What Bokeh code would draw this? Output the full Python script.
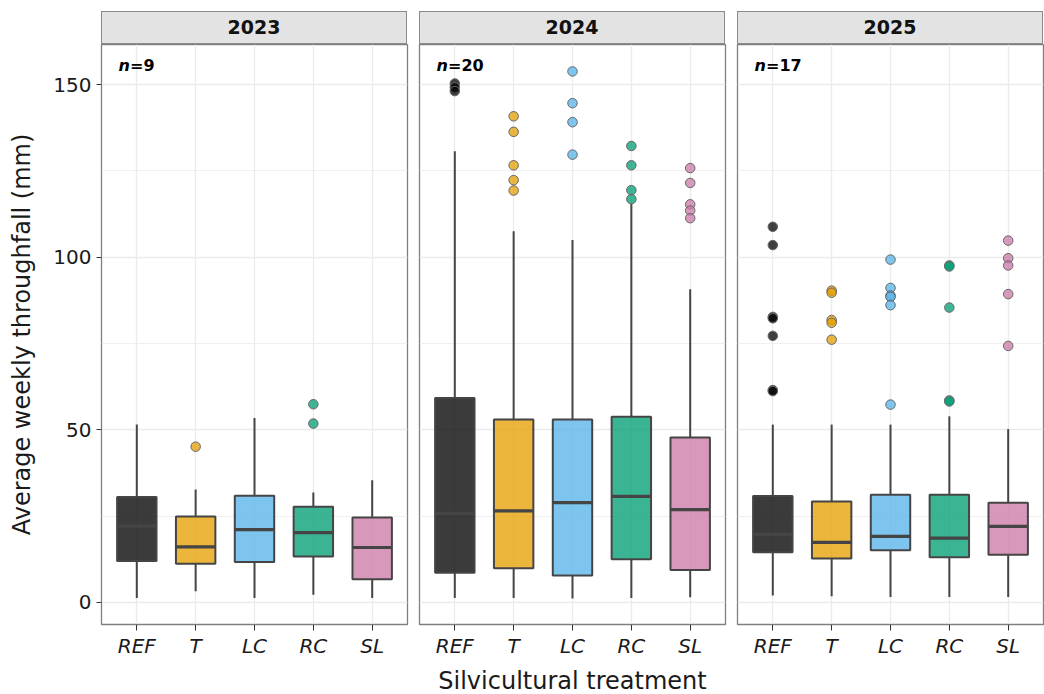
from bokeh.plotting import figure
from bokeh.models import FactorRange, Range1d, FixedTicker, Label, Div, ColumnDataSource
from bokeh.layouts import row, column
from bokeh.transform import factor_cmap
from bokeh.embed import file_html
from bokeh.resources import INLINE

# ---------------- data ----------------
treatments = ["REF", "T", "LC", "RC", "SL"]
colors = ["#000000", "#E69F00", "#56B4E9", "#009E73", "#CC79A7"]
years = ["2023", "2024", "2025"]
n_weeks = [9, 20, 17]

lo_2023 = [1.3, 3.2, 1.3, 2.2, 1.3]
q1_2023 = [12.0, 11.2, 11.7, 13.3, 6.7]
med_2023 = [22.1, 16.1, 21.1, 20.2, 15.9]
q3_2023 = [30.5, 24.9, 30.9, 27.7, 24.6]
hi_2023 = [51.5, 32.7, 53.4, 31.8, 35.4]
out_trt_2023 = ["T", "RC", "RC"]
out_val_2023 = [45.1, 57.4, 51.8]

lo_2024 = [1.3, 1.3, 1.1, 1.3, 1.5]
q1_2024 = [8.6, 9.9, 7.8, 12.5, 9.4]
med_2024 = [25.8, 26.5, 28.9, 30.7, 26.9]
q3_2024 = [59.2, 53.0, 53.0, 53.8, 47.8]
hi_2024 = [130.7, 107.5, 105.0, 115.5, 90.7]
out_trt_2024 = ["REF", "REF", "REF",
                "T", "T", "T", "T", "T",
                "LC", "LC", "LC", "LC",
                "RC", "RC", "RC", "RC",
                "SL", "SL", "SL", "SL", "SL"]
out_val_2024 = [150.3, 149.2, 148.1,
                140.8, 136.3, 126.6, 122.3, 119.3,
                153.8, 144.6, 139.1, 129.7,
                132.2, 126.6, 119.4, 116.8,
                125.8, 121.5, 115.3, 113.5, 111.3]

lo_2025 = [2.0, 1.8, 1.6, 1.6, 1.6]
q1_2025 = [14.5, 12.7, 15.1, 13.1, 13.8]
med_2025 = [19.7, 17.4, 19.1, 18.6, 22.0]
q3_2025 = [30.8, 29.2, 31.2, 31.2, 28.9]
hi_2025 = [51.5, 51.5, 51.5, 53.9, 50.2]
out_trt_2025 = ["REF", "REF", "REF", "REF", "REF", "REF", "REF",
                "T", "T", "T", "T", "T",
                "LC", "LC", "LC", "LC", "LC", "LC",
                "RC", "RC", "RC", "RC", "RC",
                "SL", "SL", "SL", "SL", "SL"]
out_val_2025 = [108.8, 103.5, 82.7, 82.3, 77.2, 61.5, 61.2,
                90.3, 89.7, 81.8, 81.0, 76.1,
                99.3, 91.1, 88.9, 88.5, 86.1, 57.3,
                97.6, 97.3, 85.4, 58.5, 58.2,
                104.8, 99.7, 97.6, 89.3, 74.3]

y_ticks = [0, 50, 100, 150]
y_minor = [25, 75, 125]

stats = {
    "2023": (lo_2023, q1_2023, med_2023, q3_2023, hi_2023, out_trt_2023, out_val_2023),
    "2024": (lo_2024, q1_2024, med_2024, q3_2024, hi_2024, out_trt_2024, out_val_2024),
    "2025": (lo_2025, q1_2025, med_2025, q3_2025, hi_2025, out_trt_2025, out_val_2025),
}

# ---------------- styling ----------------
FONT = "DejaVu Sans"
FRAME_W = 306
FRAME_H = 580
BOX_W = 0.67
LINE_C = "#454545"
GRID_C = "#ebebeb"
LEFT = 101

y_range = Range1d(-6.4, 161.6)
cmap = factor_cmap("trt", palette=colors, factors=treatments)

columns = []
for i, yr in enumerate(years):
    lo, q1, med, q3, hi, otrt, oval = stats[yr]
    first, middle, last = i == 0, i == 1, i == 2
    p = figure(
        x_range=FactorRange(factors=treatments, range_padding=0.1,
                            range_padding_units="absolute"),
        y_range=y_range,
        frame_width=FRAME_W, frame_height=FRAME_H,
        min_border_left=LEFT if first else 6,
        min_border_right=1 if last else 6,
        min_border_top=0, min_border_bottom=0,
        output_backend="svg", toolbar_location=None,
        background_fill_color="white", border_fill_color="white",
    )
    p.outline_line_color = "#7f7f7f"
    p.outline_line_width = 1.3

    src = ColumnDataSource(dict(trt=treatments, lo=lo, q1=q1, med=med, q3=q3, hi=hi))
    osrc = ColumnDataSource(dict(trt=otrt, val=oval))

    # whiskers
    p.segment(x0="trt", y0="q3", x1="trt", y1="hi", source=src,
              line_color=LINE_C, line_width=2)
    p.segment(x0="trt", y0="lo", x1="trt", y1="q1", source=src,
              line_color=LINE_C, line_width=2)
    # boxes
    p.vbar(x="trt", bottom="q1", top="q3", width=BOX_W, source=src,
           fill_color=cmap, fill_alpha=0.77, line_color=LINE_C, line_width=2)
    # medians
    p.rect(x="trt", y="med", width=BOX_W, height=3.2, height_units="screen",
           source=src, fill_color=LINE_C, line_color=None)
    # outliers
    p.scatter(x="trt", y="val", source=osrc, size=9.5, marker="circle",
              fill_color=cmap, fill_alpha=0.75,
              line_color="#666666", line_width=1)

    # n label
    p.add_layout(Label(x=0.19, y=155.5, text="n", text_font=FONT,
                       text_font_style="bold italic", text_font_size="16px",
                       text_baseline="middle", text_color="black"))
    p.add_layout(Label(x=0.19, x_offset=11.5, y=155.5, text="=" + str(n_weeks[i]),
                       text_font=FONT, text_font_style="bold",
                       text_font_size="16px", text_baseline="middle",
                       text_color="black"))

    # grids
    p.xgrid.grid_line_color = GRID_C
    p.xgrid.grid_line_width = 1.3
    p.ygrid.ticker = FixedTicker(ticks=y_ticks, minor_ticks=y_minor)
    p.ygrid.grid_line_color = GRID_C
    p.ygrid.grid_line_width = 1.3
    p.ygrid.minor_grid_line_color = GRID_C
    p.ygrid.minor_grid_line_width = 0.8

    # x axis
    xa = p.xaxis[0]
    xa.axis_line_color = None
    xa.major_tick_line_color = "#333333"
    xa.major_tick_out = 6
    xa.major_tick_in = 0
    xa.major_label_text_font = FONT
    xa.major_label_text_font_size = "20px"
    xa.major_label_text_font_style = "italic"
    xa.major_label_text_color = "#1a1a1a"
    xa.major_label_standoff = 3
    if middle:
        xa.axis_label = "Silvicultural treatment"
        xa.axis_label_text_font = FONT
        xa.axis_label_text_font_size = "24px"
        xa.axis_label_text_font_style = "normal"
        xa.axis_label_text_color = "#1a1a1a"
        xa.axis_label_standoff = 6

    # y axis
    ya = p.yaxis[0]
    ya.ticker = FixedTicker(ticks=y_ticks, minor_ticks=y_minor)
    if first:
        ya.axis_line_color = None
        ya.major_tick_line_color = "#333333"
        ya.major_tick_out = 5
        ya.major_tick_in = 0
        ya.minor_tick_line_color = None
        ya.major_label_text_font = FONT
        ya.major_label_text_font_size = "20px"
        ya.major_label_text_color = "#1a1a1a"
        ya.major_label_standoff = 5
        ya.axis_label = "Average weekly throughfall (mm)"
        ya.axis_label_text_font = FONT
        ya.axis_label_text_font_size = "24px"
        ya.axis_label_text_font_style = "normal"
        ya.axis_label_text_color = "#1a1a1a"
        ya.axis_label_standoff = 14
    else:
        ya.visible = False

    strip = Div(
        text=yr,
        width=FRAME_W, height=33,
        margin=(11, 0, 0, LEFT if first else 6),
        styles={"background-color": "#e3e3e3", "border": "1px solid #8a8a8a",
                "box-sizing": "border-box", "text-align": "center",
                "font-family": "'DejaVu Sans'", "font-weight": "bold",
                "font-size": "19px", "line-height": "31px", "color": "#111111"},
    )
    columns.append(column(strip, p, spacing=0))

layout = row(*columns, spacing=0)

html = file_html(layout, INLINE)
open("out.html", "w").write(html)
